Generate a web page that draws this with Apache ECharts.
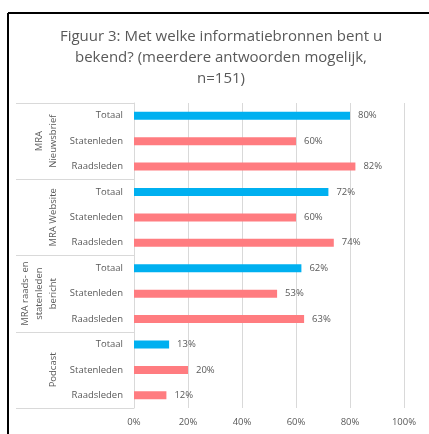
<!DOCTYPE html>
<html>
<head>
<meta charset="utf-8">
<script src="https://cdn.jsdelivr.net/npm/echarts@6/dist/echarts.min.js"></script>
<style>
  html, body { margin: 0; padding: 0; background: #fff; }
  #main { width: 429px; height: 434px; }
</style>
</head>
<body>
<div id="main"></div>
<script>
var groups = ['MRA\nNieuwsbrief', 'MRA Website', 'MRA raads- en\nstatenleden\nbericht', 'Podcast'];
var rows = ['Totaal', 'Statenleden', 'Raadsleden'];
var nieuwsbrief = [80, 60, 82];
var website = [72, 60, 74];
var raadsbericht = [62, 53, 63];
var podcast = [13, 20, 12];
var xTicks = [0, 20, 40, 60, 80, 100];

var blue = '#00b0f0';
var red = '#ff7c80';
var grey = '#595959';
var font = 'Open Sans';

var myChart = echarts.init(document.getElementById('main'));

// 12 rijen opbouwen uit de groepen
var cats = [];
var values = [];
[nieuwsbrief, website, raadsbericht, podcast].forEach(function (arr, g) {
    arr.forEach(function (v, i) {
        cats.push(rows[i]);
        values.push({
            value: v,
            itemStyle: { color: i === 0 ? blue : red }
        });
    });
});

var option = {
    animation: false,
    title: {
        text: 'Figuur 3: Met welke informatiebronnen bent u\nbekend? (meerdere antwoorden mogelijk,\nn=151)',
        left: 216,
        textAlign: 'center',
        top: 21,
        textStyle: {
            color: grey,
            fontFamily: font,
            fontWeight: 'normal',
            fontSize: 15,
            lineHeight: 21
        }
    },
    graphic: [
        { type: 'line', shape: { x1: 8, y1: 13, x2: 429, y2: 13 }, style: { stroke: '#000', lineWidth: 2 } },
        { type: 'line', shape: { x1: 8, y1: 13, x2: 8, y2: 434 }, style: { stroke: '#000', lineWidth: 2 } }
    ],
    grid: { left: 134, right: 25, top: 103, bottom: 26 },
    xAxis: {
        type: 'value',
        min: xTicks[0],
        max: xTicks[xTicks.length - 1],
        interval: 20,
        axisLine: { show: false },
        axisTick: { show: false },
        splitLine: { lineStyle: { color: '#d9d9d9' } },
        axisLabel: { formatter: '{value}%', color: grey, fontFamily: font, fontSize: 9.5, margin: 9 }
    },
    yAxis: [{
        type: 'category',
        data: cats,
        inverse: true,
        position: 'left',
        axisLine: { show: true, lineStyle: { color: '#d9d9d9' } },
        axisTick: { show: false },
        axisLabel: { interval: 0, color: grey, fontFamily: font, fontSize: 9.5, margin: 11 }
    }, {
        type: 'category',
        data: groups,
        inverse: true,
        position: 'left',
        axisLine: { show: false },
        axisTick: { show: true, interval: 0, length: 118, lineStyle: { color: '#d9d9d9' } },
        axisLabel: { interval: 0, rotate: 90, color: grey, fontFamily: font, fontSize: 9.5, lineHeight: 14, margin: 74 }
    }],
    series: [{
        type: 'bar',
        yAxisIndex: 0,
        barWidth: 8,
        data: values,
        label: {
            show: true,
            position: 'right',
            distance: 8,
            formatter: '{c}%',
            color: grey,
            fontFamily: font,
            fontSize: 9.5
        }
    }]
};

myChart.setOption(option);
</script>
</body>
</html>
